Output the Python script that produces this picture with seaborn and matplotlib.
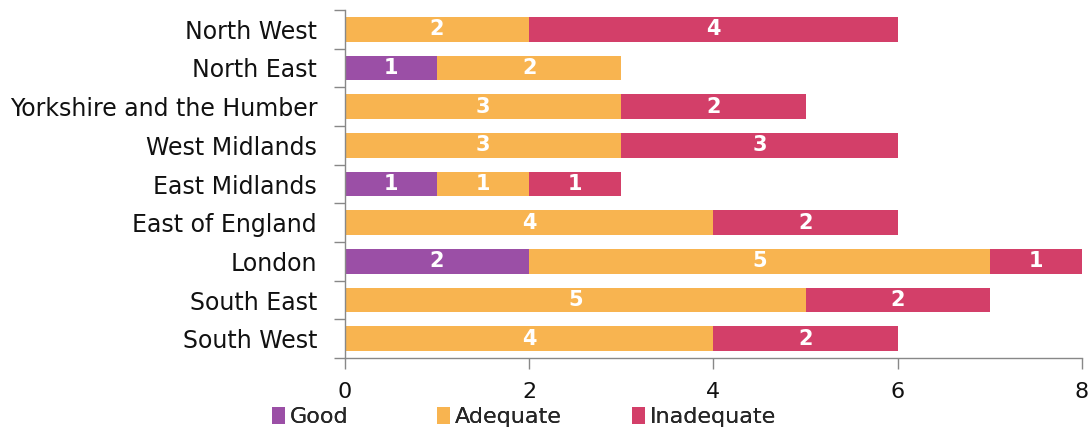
import matplotlib
matplotlib.use("Agg")
import matplotlib.pyplot as plt
import seaborn as sns
import pandas as pd
import numpy as np
from matplotlib.patches import Patch

regions = ["North West", "North East", "Yorkshire and the Humber", "West Midlands",
           "East Midlands", "East of England", "London", "South East", "South West"]
good = [0, 1, 0, 0, 1, 0, 2, 0, 0]
adequate = [2, 2, 3, 3, 1, 4, 5, 5, 4]
inadequate = [4, 0, 2, 3, 1, 2, 1, 2, 2]
series_names = ["Good", "Adequate", "Inadequate"]
colors = ["#9B4FA6", "#F8B450", "#D33F69"]
x_ticks = [0, 2, 4, 6, 8]

sns.set_theme(style="white")
plt.rcParams['font.family'] = ['DejaVu Sans']

df = pd.DataFrame({"region": regions, "Good": good, "Adequate": adequate, "Inadequate": inadequate})
df["c1"] = df["Good"]
df["c2"] = df["Good"] + df["Adequate"]
df["c3"] = df["c2"] + df["Inadequate"]

fig = plt.figure(figsize=(10.88, 4.32), dpi=100)
ax = fig.add_axes([0.317, 0.171, 0.6775, 0.806])

for col, color in zip(["c3", "c2", "c1"], colors[::-1]):
    sns.barplot(data=df, x=col, y="region", color=color, width=0.64,
                orient="h", ax=ax, saturation=1, edgecolor="none")

# value labels
for i, r in df.iterrows():
    starts = [0, r["c1"], r["c2"]]
    vals = [r["Good"], r["Adequate"], r["Inadequate"]]
    for s, v in zip(starts, vals):
        if v > 0:
            ax.text(s + v / 2, i, str(v), ha="center", va="center", color="white",
                    fontsize=15, fontweight="bold")

ax.set_xlim(0, 8)
ax.set_ylim(8.5, -0.5)
ax.set_xticks(x_ticks)
ax.set_xlabel("")
ax.set_ylabel("")
ax.tick_params(axis="y", which="major", length=0, labelsize=17, pad=20, colors="#111111")
ax.set_yticks(np.arange(-0.5, 9.0, 1.0), minor=True)
ax.tick_params(axis="y", which="minor", length=8, width=1, color="#888888", direction="out", left=True)
ax.tick_params(axis="x", length=8, width=1, color="#888888", direction="out", bottom=True,
               labelsize=16, pad=9, labelcolor="#111111")
for side in ["top", "right"]:
    ax.spines[side].set_visible(False)
for side in ["left", "bottom"]:
    ax.spines[side].set_color("#888888")
    ax.spines[side].set_linewidth(1)

legend_x = [0.250, 0.4017, 0.581]
for n, c, lx in zip(series_names, colors, legend_x):
    leg = fig.legend(handles=[Patch(facecolor=c, edgecolor="none", label=n)],
                     loc="center left", bbox_to_anchor=(lx, 0.034),
                     frameon=False, fontsize=16, handlelength=0.6, handleheight=0.75,
                     handletextpad=0.2, borderpad=0, borderaxespad=0)
    fig.add_artist(leg)

fig.savefig("out.png", dpi=100)
